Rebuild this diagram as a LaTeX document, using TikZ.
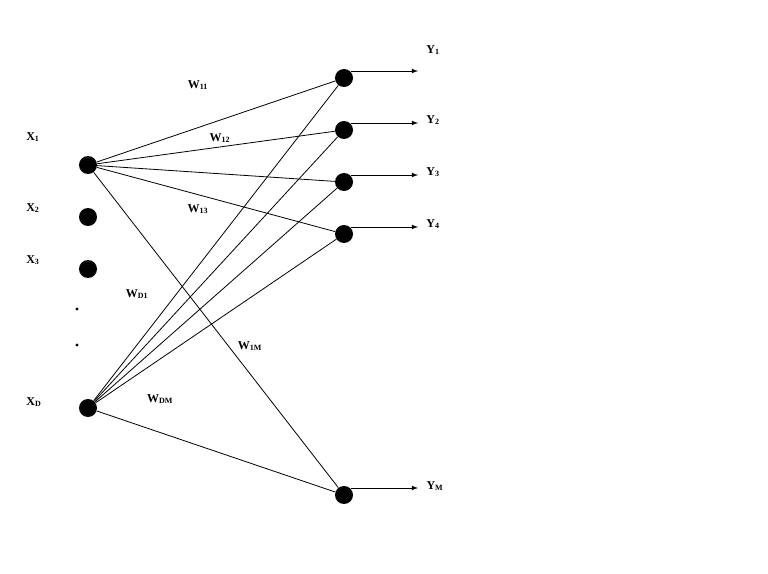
\documentclass[tikz,border=0pt]{standalone}
\usepackage{fontspec}
\setmainfont{Liberation Serif}
\begin{document}
\begin{tikzpicture}[x=0.75pt,y=-0.75pt,
  neuron/.style={circle,fill=black,minimum size=13.5pt,inner sep=0pt},
  dot/.style={circle,fill=black,minimum size=2.5pt,inner sep=0pt},
  lab/.style={font=\bfseries\fontsize{9}{10}\selectfont,inner sep=0pt},
  conn/.style={line width=0.6pt},
  arr/.style={line width=0.6pt,-latex}]
\useasboundingbox (0,0) rectangle (768,574);
\node[neuron] (x1) at (88,165) {};
\node[neuron] (x2) at (88,217) {};
\node[neuron] (x3) at (88,269) {};
\node[dot] (d1) at (77,309) {};
\node[dot] (d2) at (77,345) {};
\node[neuron] (xd) at (88,408) {};
\node[neuron] (y1) at (344,78) {};
\node[neuron] (y2) at (344,130) {};
\node[neuron] (y3) at (344,182) {};
\node[neuron] (y4) at (344,234) {};
\node[neuron] (ym) at (344,495) {};
\foreach \o in {y1,y2,y3,y4,ym}{
  \draw[conn] (x1) -- (\o);
  \draw[conn] (xd) -- (\o);
}
\foreach \o/\t/\l in {y1/71/Y_1,y2/123/Y_2,y3/175/Y_3,y4/227/Y_4,ym/488/Y_M}{
  \coordinate (e\o) at (418,\t);
  \draw[arr] (\o.north east |- e\o) -- (e\o);
}
\node[lab] (ly1) at (433,50) {Y\textsubscript{1}};
\node[lab] (ly2) at (433,120) {Y\textsubscript{2}};
\node[lab] (ly3) at (433,172) {Y\textsubscript{3}};
\node[lab] (ly4) at (433,224) {Y\textsubscript{4}};
\node[lab] (lym) at (435,486) {Y\textsubscript{M}};
\node[lab] (lx1) at (33,137) {X\textsubscript{1}};
\node[lab] (lx2) at (33,208) {X\textsubscript{2}};
\node[lab] (lx3) at (33,260) {X\textsubscript{3}};
\node[lab] (lxd) at (34,402) {X\textsubscript{D}};
\node[lab] (w11) at (198,85) {W\textsubscript{11}};
\node[lab] (w12) at (220,138) {W\textsubscript{12}};
\node[lab] (w13) at (198,209) {W\textsubscript{13}};
\node[lab] (wd1) at (137,294) {W\textsubscript{D1}};
\node[lab] (w1m) at (250,346) {W\textsubscript{1M}};
\node[lab] (wdm) at (160,399) {W\textsubscript{DM}};
\end{tikzpicture}
\end{document}
